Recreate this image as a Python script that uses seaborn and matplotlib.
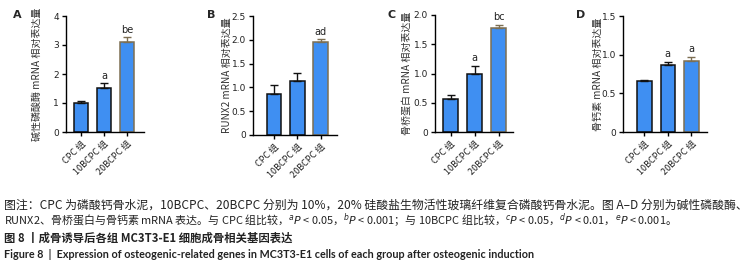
import numpy as np
import seaborn as sns
import matplotlib.pyplot as plt

# group names and relative mRNA expression (mean, sd)
groups = ['CPC 组', '10BCPC 组', '20BCPC 组']

alp_mean = [1.00, 1.51, 3.11]
alp_err = [0.08, 0.17, 0.15]
alp_sig = ['', 'a', 'be']

runx2_mean = [0.86, 1.14, 1.95]
runx2_err = [0.18, 0.16, 0.06]
runx2_sig = ['', '', 'ad']

opn_mean = [0.56, 0.99, 1.78]
opn_err = [0.08, 0.14, 0.05]
opn_sig = ['', 'a', 'bc']

ocn_mean = [0.66, 0.86, 0.92]
ocn_err = [0.01, 0.05, 0.05]
ocn_sig = ['', 'a', 'a']

ylabels = ['碱性磷酸酶 mRNA 相对表达量', 'RUNX2 mRNA 相对表达量',
           '骨桥蛋白 mRNA 相对表达量', '骨钙素 mRNA 相对表达量']
panel_letters = ['A', 'B', 'C', 'D']
yticks = [[0, 1, 2, 3, 4], [0, 0.5, 1.0, 1.5, 2.0, 2.5],
          [0, 0.5, 1.0, 1.5, 2.0], [0, 0.5, 1.0, 1.5]]

caption = [
    '图注：CPC 为磷酸钙骨水泥，10BCPC、20BCPC 分别为 10%，20% 硅酸盐生物活性玻璃纤维复合磷酸钙骨水泥。图 A–D 分别为碱性磷酸酶、',
    'RUNX2、骨桥蛋白与骨钙素 mRNA 表达。与 CPC 组比较，$^{a}P$ < 0.05，$^{b}P$ < 0.001；与 10BCPC 组比较，'
    '$^{c}P$ < 0.05，$^{d}P$ < 0.01，$^{e}P$ < 0.001。',
    '图 8 丨成骨诱导后各组 MC3T3-E1 细胞成骨相关基因表达',
    'Figure 8  |  Expression of osteogenic-related genes in MC3T3-E1 cells of each group after osteogenic induction',
]

sns.set_style('ticks')
plt.rcParams['font.family'] = ['Noto Sans CJK SC', 'DejaVu Sans']

W, H = 755, 268
fig = plt.figure(figsize=(W / 100, H / 100), dpi=100)

fill = '#3f8ff2'
edges = ['#111111', '#111111', '#7d6f52']

# axes boxes in pixels: left, top, right, bottom; plus x limits
boxes = [(66, 16, 144, 132), (253, 16, 337, 135), (435, 15, 513, 132), (623, 16, 707, 132)]
xlims = [(-0.66, 2.74), (-0.9, 2.7), (-0.65, 2.6), (-0.91, 2.67)]
label_x = [42, 232, 412, 603]
letter_xy = [(13, 15), (207, 15), (388, 15), (576, 15)]

series = [(alp_mean, alp_err, alp_sig), (runx2_mean, runx2_err, runx2_sig),
          (opn_mean, opn_err, opn_sig), (ocn_mean, ocn_err, ocn_sig)]

for i, (means, errs, sig) in enumerate(series):
    l, t, r, b = boxes[i]
    ax = fig.add_axes([l / W, 1 - b / H, (r - l) / W, (b - t) / H])
    sns.barplot(x=groups, y=means, color=fill, saturation=1, width=0.62,
                edgecolor='black', linewidth=1.1, errorbar=None, ax=ax)
    for p, ec in zip(ax.patches, edges):
        p.set_edgecolor(ec)
    for k in range(3):
        ax.errorbar(k, means[k], yerr=[[0], [errs[k]]], fmt='none',
                    ecolor=edges[k], elinewidth=1.0, capsize=3, capthick=1.0)
        if sig[k]:
            ax.annotate(sig[k], (k, means[k] + errs[k]), xytext=(0, 2),
                        textcoords='offset points', ha='center', va='bottom',
                        fontsize=7, family='DejaVu Sans', color='#222222')
    ax.set_xlim(*xlims[i])
    ax.set_ylim(0, yticks[i][-1])
    ax.set_yticks(yticks[i])
    ax.set_yticklabels(['0' if v == 0 else (f'{v:.1f}' if i > 0 else f'{v:g}') for v in yticks[i]],
                       family='DejaVu Sans', fontsize=6.5)
    ax.set_xticks(range(3))
    ax.set_xticklabels(groups, rotation=45, ha='right', rotation_mode='anchor', fontsize=6.5)
    ax.tick_params(axis='both', length=3, width=1.0, pad=2, colors='black', labelcolor='#222222')
    for s in ['left', 'bottom']:
        ax.spines[s].set_linewidth(1.0)
        ax.spines[s].set_color('black')
    sns.despine(ax=ax)
    ax.set_ylabel(ylabels[i], fontsize=7.2, color='#333333')
    ax.yaxis.set_label_coords((label_x[i] - l) / (r - l), 0.5)
    lx, ly = letter_xy[i]
    fig.text(lx / W, 1 - ly / H, panel_letters[i], fontsize=8, fontweight='bold',
             family='DejaVu Sans', ha='left', va='center')

# caption lines, sized to the width they take in the reference
cap_y = [205, 221, 238, 255]
cap_right = [747, 672, 292, 535]
cap_style = [dict(), dict(), dict(fontweight='bold'),
             dict(fontweight='bold', family=['Lato', 'DejaVu Sans'])]
renderer = fig.canvas.get_renderer()
for txt, y, right, st in zip(caption, cap_y, cap_right, cap_style):
    t = fig.text(4 / W, 1 - y / H, txt, fontsize=8, ha='left', va='center',
                 color='#222222', **st)
    w = t.get_window_extent(renderer).width
    t.set_fontsize(8 * (right - 4) / w)

fig.savefig('out.png', dpi=100)
